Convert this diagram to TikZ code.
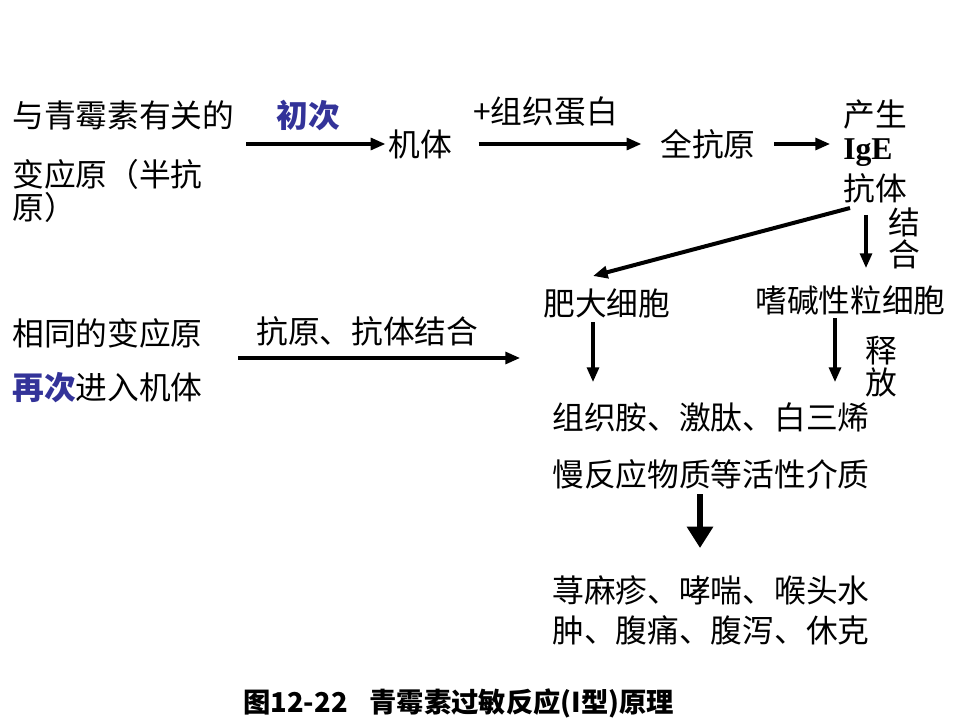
\documentclass[tikz,border=0pt]{standalone}
\usepackage{fontspec}
\setmainfont{Noto Sans CJK SC}
\newfontfamily\latinserif{Liberation Serif}
\usetikzlibrary{arrows.meta}
\definecolor{kblue}{RGB}{51,51,153}
\begin{document}
\begin{tikzpicture}[x=0.75pt,y=-0.75pt,
 txt/.style={inner sep=0pt, anchor=west, font=\fontsize{23.8}{28}\selectfont},
 arr/.style={line width=2.3pt, -{Triangle[length=11pt,width=9pt]}},
 bigarr/.style={line width=3.8pt, -{Triangle[length=16pt,width=19pt]}},
 hl/.style={text=kblue, font=\fontsize{23.8}{28}\selectfont\bfseries},
]
\useasboundingbox (0,0) rectangle (960,720);
% top row
\node[txt] (a1) at (12,115) {与青霉素有关的};
\node[txt] (a2) at (12,174) {变应原（半抗};
\node[txt] (a3) at (12,207) {原）};
\node[txt, hl] (chu) at (276,115) {初次};
\node[txt] (jiti) at (388,144) {机体};
\node[txt] (zz) at (473,112) {+组织蛋白};
\node[txt] (quan) at (660,144) {全抗原};
\node[txt] (chan) at (843,115) {产生};
\node[txt, font=\fontsize{23.8}{28}\latinserif\bfseries] (ige) at (843,153) {IgE};
\node[txt] (kt) at (843,188) {抗体};
\node[txt] (jie) at (888,222) {结};
\node[txt] (he) at (888,254) {合};
\coordinate (s1) at (246,144);
\coordinate (e3) at (830,144);
\coordinate (dgs) at (850,208);
\coordinate (dge) at (593,276);
\coordinate (dns) at (866,215);
\coordinate (dne) at (866,268);
\draw[arr] (s1) -- ([xshift=-2]jiti.west);
\draw[arr] ([xshift=20]jiti.east) -- ([xshift=-14]quan.west);
\draw[arr] ([xshift=14]quan.east) -- (e3);
\draw[arr, line width=3pt] (dgs) -- (dge);
\draw[arr] (dns) -- (dne);
% middle
\node[txt] (fd) at (543,303) {肥大细胞};
\node[txt] (sj) at (755,300) {嗜碱性粒细胞};
\node[txt] (shi) at (865,351) {释};
\node[txt] (fang) at (865,382) {放};
\node[txt] (m1) at (552,417) {组织胺、激肽、白三烯};
\node[txt] (m2) at (552,474) {慢反应物质等活性介质};
\coordinate (fds) at (593,322);
\coordinate (fde) at (593,382);
\coordinate (sjs) at (835,318);
\coordinate (sje) at (835,382);
\draw[arr] (fds) -- (fde);
\draw[arr] (sjs) -- (sje);
% left lower
\node[txt] (b1) at (12,333) {相同的变应原};
\node[txt] (b2) at (12,388) {\textcolor{kblue}{\bfseries 再次}进入机体};
\node[txt] (kk) at (256,331) {抗原、抗体结合};
\coordinate (s5) at (238,358);
\coordinate (e5) at (520,358);
\draw[arr] (s5) -- (e5);
% result
\coordinate (s6) at (700,494);
\coordinate (e6) at (700,548);
\draw[bigarr] (s6) -- (e6);
\node[txt] (r1) at (552,590) {荨麻疹、哮喘、喉头水};
\node[txt] (r2) at (552,630) {肿、腹痛、腹泻、休克};
% caption
\node[inner sep=0pt, anchor=west, font=\fontsize{20.5}{24}\selectfont\bfseries] (cap) at (243,703) {图12-22\hspace{0.8em}青霉素过敏反应(I型)原理};
\end{tikzpicture}
\end{document}
